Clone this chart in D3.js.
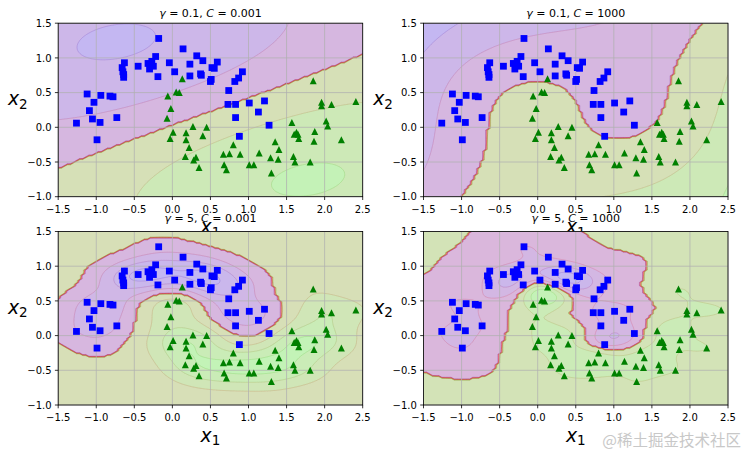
<!DOCTYPE html>
<html>
<head>
<meta charset="utf-8">
<script src="https://d3js.org/d3.v7.min.js"></script>
<style>
body { margin: 0; background: white; }
svg { font-family: "DejaVu Sans", sans-serif; }
</style>
</head>
<body>
<svg id="chart" width="744" height="454"></svg>
<script>
// moons sample
var blueX = [-0.18, 0.14, 0.32, 0.40, 0.59, 0.52, 0.55, 0.23, -0.04, 0.03, 0.23, 0.37, 0.38, 0.51, 0.50,
  0.92, 0.87, 0.82, 0.74, 0.73, 0.83, 1.01, 1.21, 1.13, 0.83, 1.27, 0.88, -0.19, -0.22, -0.27,
  -0.32, -0.30, -0.25, -0.45, -0.63, -0.66, -0.65, -0.64, -0.64, -1.12, -0.94, -1.03, -0.82, -0.78, -1.09,
  -1.05, -0.95, -0.73, -1.26, -0.99];
var blueY = [1.28, 1.13, 1.03, 0.96, 0.94, 0.86, 0.85, 0.91, 0.93, 0.80, 0.74, 0.77, 0.75, 0.69, 0.66,
  0.80, 0.71, 0.66, 0.53, 0.33, 0.33, 0.35, 0.38, 0.22, 0.14, 0.03, -0.13, 0.73, 1.02, 0.95,
  0.92, 0.84, 0.88, 0.88, 0.93, 0.86, 0.80, 0.76, 0.72, 0.48, 0.46, 0.36, 0.45, 0.44, 0.24,
  0.12, 0.07, 0.14, 0.06, -0.18];
var greenX = [0.13, 0.05, 0.09, -0.06, -0.02, -0.07, 0.01, -0.03, 0.27, 0.45, 0.18, 0.18, 0.40, 0.22, 0.17,
  0.31, 0.28, 0.35, 0.80, 0.67, 0.75, 0.89, 0.68, 0.71, 1.01, 1.07, 1.14, 1.35, 1.40, 1.29,
  1.39, 1.30, 1.59, 1.61, 1.81, 1.57, 1.60, 1.63, 1.65, 1.66, 1.87, 1.86, 1.85, 1.96, 1.96,
  2.09, 2.02, 2.04, 2.22, 2.41];
var greenY = [0.70, 0.51, 0.50, 0.45, 0.27, 0.13, -0.07, -0.16, 0.01, 0.00, -0.08, -0.18, -0.12, -0.29, -0.42,
  -0.43, -0.47, -0.58, -0.25, -0.39, -0.38, -0.39, -0.54, -0.61, -0.54, -0.54, -0.37, -0.21, -0.32, -0.44,
  -0.46, -0.66, -0.42, -0.50, -0.50, 0.07, -0.10, -0.07, -0.10, -0.16, -0.06, -0.20, 0.67, 0.36, 0.31,
  0.33, 0.09, 0.02, -0.18, 0.37];

// hyperparameters of the four panels
var gammas = [0.1, 0.1, 5, 5];
var Cs = [0.001, 1000, 0.001, 1000];
var gammaLabels = ["0.1", "0.1", "5", "5"];
var CLabels = ["0.001", "1000", "0.001", "1000"];

var xTicks = [-1.5, -1, -0.5, 0, 0.5, 1, 1.5, 2, 2.5];
var yTicks = [-1, -0.5, 0, 0.5, 1, 1.5];

var panels = [
  {left: 58.2, top: 23.2, w: 304.5, h: 173.5, titleY: 17.3},
  {left: 423.5, top: 23.2, w: 304.5, h: 173.5, titleY: 17.3},
  {left: 58.2, top: 231.5, w: 304.5, h: 173.5, titleY: 222},
  {left: 423.5, top: 231.5, w: 304.5, h: 173.5, titleY: 222}
];

// standard scaler, like the pipeline in front of the SVC
function fitScaler(P) {
  var n = P.length, m = [0, 0], s = [0, 0];
  P.forEach(function(p) { m[0] += p[0]; m[1] += p[1]; });
  m[0] /= n; m[1] /= n;
  P.forEach(function(p) { s[0] += (p[0] - m[0]) * (p[0] - m[0]); s[1] += (p[1] - m[1]) * (p[1] - m[1]); });
  s[0] = Math.sqrt(s[0] / n); s[1] = Math.sqrt(s[1] / n);
  return function(p) { return [(p[0] - m[0]) / s[0], (p[1] - m[1]) / s[1]]; };
}

// small SMO solver (libsvm style working set selection), rbf kernel
function trainSVC(P, y, gamma, C) {
  var n = P.length, t;
  var kern = function(a, b) {
    var dx = a[0] - b[0], dy = a[1] - b[1];
    return Math.exp(-gamma * (dx * dx + dy * dy));
  };
  var K = P.map(function(a) { return P.map(function(b) { return kern(a, b); }); });
  var alpha = new Array(n).fill(0), G = new Array(n).fill(-1);
  var eps = 1e-3, tau = 1e-12;
  var isUp = function(t) { return y[t] > 0 ? alpha[t] < C : alpha[t] > 0; };
  var isLow = function(t) { return y[t] > 0 ? alpha[t] > 0 : alpha[t] < C; };
  for (var iter = 0; iter < 400000; iter++) {
    var Gmax = -Infinity, Gmax2 = -Infinity, i = -1, j = -1, objMin = Infinity;
    for (t = 0; t < n; t++) if (isUp(t) && -y[t] * G[t] >= Gmax) { Gmax = -y[t] * G[t]; i = t; }
    for (t = 0; t < n; t++) {
      if (!isLow(t)) continue;
      var v = y[t] * G[t];
      if (v >= Gmax2) Gmax2 = v;
      var gd = Gmax + v;
      if (gd > 0 && i >= 0) {
        var q = 2 - 2 * K[i][t]; if (q <= 0) q = tau;
        var obj = -gd * gd / q;
        if (obj <= objMin) { objMin = obj; j = t; }
      }
    }
    if (Gmax + Gmax2 < eps || j < 0) break;
    var Qij = y[i] * y[j] * K[i][j];
    var ai = alpha[i], aj = alpha[j], quad, delta;
    if (y[i] != y[j]) {
      quad = 2 + 2 * Qij; if (quad <= 0) quad = tau;
      delta = (-G[i] - G[j]) / quad;
      var diff = alpha[i] - alpha[j];
      alpha[i] += delta; alpha[j] += delta;
      if (diff > 0) { if (alpha[j] < 0) { alpha[j] = 0; alpha[i] = diff; } }
      else { if (alpha[i] < 0) { alpha[i] = 0; alpha[j] = -diff; } }
      if (diff > 0) { if (alpha[i] > C) { alpha[i] = C; alpha[j] = C - diff; } }
      else { if (alpha[j] > C) { alpha[j] = C; alpha[i] = C + diff; } }
    } else {
      quad = 2 - 2 * Qij; if (quad <= 0) quad = tau;
      delta = (G[i] - G[j]) / quad;
      var sum = alpha[i] + alpha[j];
      alpha[i] -= delta; alpha[j] += delta;
      if (sum > C) { if (alpha[i] > C) { alpha[i] = C; alpha[j] = sum - C; } }
      else { if (alpha[j] < 0) { alpha[j] = 0; alpha[i] = sum; } }
      if (sum > C) { if (alpha[j] > C) { alpha[j] = C; alpha[i] = sum - C; } }
      else { if (alpha[i] < 0) { alpha[i] = 0; alpha[j] = sum; } }
    }
    var dai = alpha[i] - ai, daj = alpha[j] - aj;
    for (t = 0; t < n; t++) G[t] += y[t] * y[i] * K[t][i] * dai + y[t] * y[j] * K[t][j] * daj;
  }
  // bias
  var ub = Infinity, lb = -Infinity, nFree = 0, sFree = 0;
  for (t = 0; t < n; t++) {
    var yG = y[t] * G[t];
    if (alpha[t] >= C) { if (y[t] < 0) ub = Math.min(ub, yG); else lb = Math.max(lb, yG); }
    else if (alpha[t] <= 0) { if (y[t] > 0) ub = Math.min(ub, yG); else lb = Math.max(lb, yG); }
    else { nFree++; sFree += yG; }
  }
  var rho = nFree > 0 ? sFree / nFree : (ub + lb) / 2;
  return function(p) {
    var s = 0;
    for (var k = 0; k < n; k++) if (alpha[k] > 0) s += alpha[k] * y[k] * kern(P[k], p);
    return s - rho;
  };
}

// matplotlib "brg" colormap
function brg(t) {
  t = Math.max(0, Math.min(1, t));
  var r, g, b;
  if (t < 0.5) { r = 2 * t; g = 0; b = 1 - 2 * t; }
  else { r = 2 - 2 * t; g = 2 * t - 1; b = 0; }
  return d3.rgb(r * 255, g * 255, b * 255).formatHex();
}

// contourf default levels (MaxNLocator with 8 bins, then trimmed)
function autoLevels(zmin, zmax) {
  var nbins = 8, dv = zmax - zmin;
  var scale = Math.pow(10, Math.floor(Math.log10(dv / nbins)));
  var steps = [0.1, 0.2, 0.25, 0.5, 1, 2, 2.5, 5, 10, 20].map(function(s) { return s * scale; });
  var raw = dv / nbins;
  var step = steps.find(function(s) { return s >= raw * (1 - 1e-9); });
  var best = Math.floor(zmin / step) * step;
  var low = Math.floor((zmin - best) / step + 1e-9);
  var high = Math.ceil((zmax - best) / step - 1e-9);
  var lev = [];
  for (var k = low; k <= high; k++) lev.push(best + k * step);
  var i0 = 0, i1 = lev.length, i;
  for (i = 0; i < lev.length; i++) if (lev[i] < zmin) i0 = i;
  for (i = 0; i < lev.length; i++) if (lev[i] > zmax) { i1 = i + 1; break; }
  if (i1 - i0 < 3) { i0 = 0; i1 = lev.length; }
  return lev.slice(i0, i1);
}

var nx = 100, ny = 100;
var gridX = d3.range(nx).map(function(i) { return -1.5 + i * 4 / (nx - 1); });
var gridY = d3.range(ny).map(function(j) { return -1 + j * 2.5 / (ny - 1); });

function drawBands(g, values, levels, alpha, path) {
  var cs = d3.contours().size([nx, ny]).thresholds(levels)(values);
  var lo = levels[0], hi = levels[levels.length - 1];
  for (var b = 0; b < levels.length - 1; b++) {
    var col = brg(((levels[b] + levels[b + 1]) / 2 - lo) / (hi - lo));
    var d = path(cs[b]) || "";
    if (b < levels.length - 2) d += path(cs[b + 1]) || "";
    if (!d) continue;
    g.append("path")
      .attr("d", d)
      .attr("fill", col).attr("fill-rule", "evenodd").attr("fill-opacity", alpha)
      .attr("stroke", col).attr("stroke-opacity", alpha).attr("stroke-width", 0.8);
  }
}

var pts = [], labels = [];
blueX.forEach(function(v, i) { pts.push([v, blueY[i]]); labels.push(-1); });
greenX.forEach(function(v, i) { pts.push([v, greenY[i]]); labels.push(1); });
var scaler = fitScaler(pts);
var scaled = pts.map(scaler);

var svg = d3.select("#chart");
svg.append("rect").attr("width", 744).attr("height", 454).attr("fill", "white");
var fmt = d3.format(".1f");

panels.forEach(function(p, k) {
  var f = trainSVC(scaled, labels, gammas[k], Cs[k]);
  var dec = new Array(nx * ny), pred = new Array(nx * ny);
  for (var j = 0; j < ny; j++)
    for (var i = 0; i < nx; i++) {
      var v = f(scaler([gridX[i], gridY[j]]));
      dec[j * nx + i] = v;
      pred[j * nx + i] = v > 0 ? 1 : 0;
    }

  var x = d3.scaleLinear().domain([-1.5, 2.5]).range([p.left, p.left + p.w]);
  var y = d3.scaleLinear().domain([-1, 1.5]).range([p.top + p.h, p.top]);
  var g = svg.append("g");

  g.append("clipPath").attr("id", "clip" + k)
    .append("rect").attr("x", p.left).attr("y", p.top).attr("width", p.w).attr("height", p.h);
  g.append("rect").attr("x", p.left).attr("y", p.top).attr("width", p.w).attr("height", p.h).attr("fill", "white");

  var proj = d3.geoTransform({point: function(px, py) {
    this.stream.point(x(-1.5 + (px - 0.5) * 4 / (nx - 1)), y(-1 + (py - 0.5) * 2.5 / (ny - 1)));
  }});
  var path = d3.geoPath(proj);
  var area = g.append("g").attr("clip-path", "url(#clip" + k + ")");
  drawBands(area, pred, autoLevels(0, 1), 0.2, path);
  drawBands(area, dec, autoLevels(d3.min(dec), d3.max(dec)), 0.1, path);

  // grid
  g.selectAll(".gx").data(xTicks).enter().append("line")
    .attr("x1", function(d) { return x(d); }).attr("x2", function(d) { return x(d); })
    .attr("y1", p.top).attr("y2", p.top + p.h)
    .attr("stroke", "#b0b0b0").attr("stroke-width", 0.75);
  g.selectAll(".gy").data(yTicks).enter().append("line")
    .attr("y1", function(d) { return y(d); }).attr("y2", function(d) { return y(d); })
    .attr("x1", p.left).attr("x2", p.left + p.w)
    .attr("stroke", "#b0b0b0").attr("stroke-width", 0.75);

  // dataset
  g.selectAll(".sq").data(blueX).enter().append("rect")
    .attr("x", function(d) { return x(d) - 3.4; })
    .attr("y", function(d, i) { return y(blueY[i]) - 3.4; })
    .attr("width", 6.8).attr("height", 6.8).attr("fill", "#0000ff");
  g.selectAll(".tri").data(greenX).enter().append("path")
    .attr("d", function(d, i) {
      var cx = x(d), cy = y(greenY[i]), s = 3.5;
      return "M" + cx + "," + (cy - s) + "L" + (cx + s) + "," + (cy + s) + "L" + (cx - s) + "," + (cy + s) + "Z";
    })
    .attr("fill", "#008000");

  // frame and ticks
  g.append("rect").attr("x", p.left).attr("y", p.top).attr("width", p.w).attr("height", p.h)
    .attr("fill", "none").attr("stroke", "black").attr("stroke-width", 0.8);
  var bottom = p.top + p.h;
  g.selectAll(".tx").data(xTicks).enter().append("line")
    .attr("x1", function(d) { return x(d); }).attr("x2", function(d) { return x(d); })
    .attr("y1", bottom).attr("y2", bottom + 3.3).attr("stroke", "black").attr("stroke-width", 0.8);
  g.selectAll(".lx").data(xTicks).enter().append("text")
    .attr("x", function(d) { return x(d); }).attr("y", bottom + 16)
    .attr("text-anchor", "middle").attr("font-size", "10px")
    .text(function(d) { return fmt(d); });
  g.selectAll(".ty").data(yTicks).enter().append("line")
    .attr("y1", function(d) { return y(d); }).attr("y2", function(d) { return y(d); })
    .attr("x1", p.left - 3.3).attr("x2", p.left).attr("stroke", "black").attr("stroke-width", 0.8);
  g.selectAll(".ly").data(yTicks).enter().append("text")
    .attr("x", p.left - 6.6).attr("y", function(d) { return y(d) + 3.6; })
    .attr("text-anchor", "end").attr("font-size", "10px")
    .text(function(d) { return fmt(d); });

  // title
  var title = g.append("text")
    .attr("x", p.left + p.w / 2).attr("y", p.titleY)
    .attr("text-anchor", "middle").attr("font-size", "11px");
  title.append("tspan").attr("font-style", "italic").text("γ");
  title.append("tspan").text(" = " + gammaLabels[k] + ", ");
  title.append("tspan").attr("font-style", "italic").text("C");
  title.append("tspan").text(" = " + CLabels[k]);

  // axis labels
  var xl = g.append("text")
    .attr("x", p.left + p.w / 2).attr("y", bottom + 36.7)
    .attr("text-anchor", "middle").attr("font-size", "18.8px");
  xl.append("tspan").attr("font-style", "italic").text("x");
  xl.append("tspan").attr("font-size", "13.5px").attr("dy", 3.3).text("1");
  var yl = g.append("text")
    .attr("x", p.left - 40.4).attr("y", p.top + p.h / 2 - 4.5)
    .attr("text-anchor", "middle").attr("font-size", "18.8px");
  yl.append("tspan").attr("font-style", "italic").text("x");
  yl.append("tspan").attr("font-size", "13.5px").attr("dy", 3.3).text("2");
});

svg.append("text")
  .attr("x", 741).attr("y", 446)
  .attr("text-anchor", "end")
  .attr("font-family", "'Noto Sans CJK SC', sans-serif")
  .attr("font-size", "15.5px")
  .attr("fill", "#c8c8c8")
  .text("@稀土掘金技术社区");
</script>
</body>
</html>
